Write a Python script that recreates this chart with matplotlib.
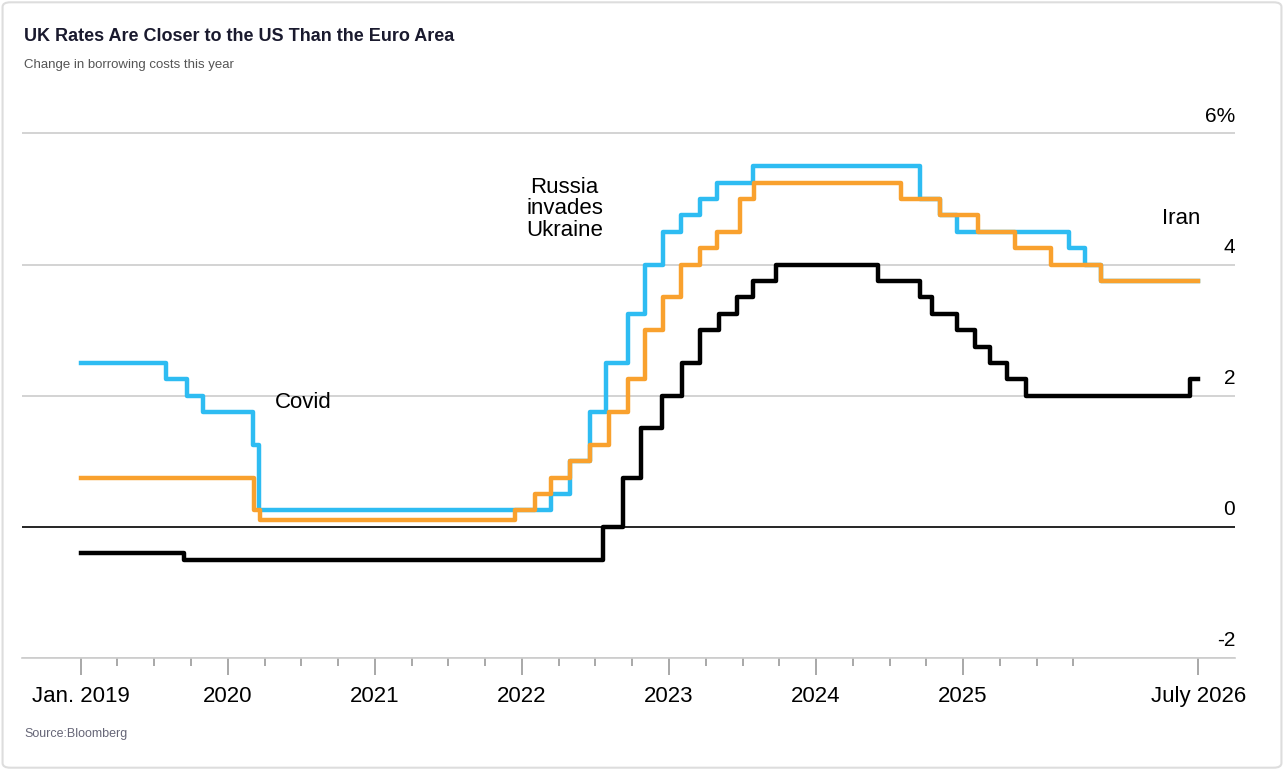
import matplotlib.pyplot as plt
import matplotlib.patches as patches

plt.rcParams['font.family'] = ['Liberation Sans', 'DejaVu Sans']

# step dates in decimal years, rate after that date
fed_dates = [2019.0, 2019.58, 2019.72, 2019.83, 2020.17, 2020.21, 2022.2, 2022.33, 2022.46, 2022.57, 2022.72, 2022.84,
             2022.96, 2023.08, 2023.21, 2023.33, 2023.57, 2024.71, 2024.84, 2024.96, 2025.72, 2025.83, 2025.94]
fed_vals = [2.5, 2.25, 2.0, 1.75, 1.25, 0.25, 0.5, 1.0, 1.75, 2.5, 3.25, 4.0,
            4.5, 4.75, 5.0, 5.25, 5.5, 5.0, 4.75, 4.5, 4.25, 4.0, 3.75]

boe_dates = [2019.0, 2020.18, 2020.22, 2021.95, 2022.09, 2022.2, 2022.33, 2022.46, 2022.59, 2022.72, 2022.84,
             2022.96, 2023.08, 2023.21, 2023.33, 2023.48, 2023.58, 2024.58, 2024.84, 2025.1, 2025.35, 2025.6, 2025.94]
boe_vals = [0.75, 0.25, 0.1, 0.25, 0.5, 0.75, 1.0, 1.25, 1.75, 2.25, 3.0,
            3.5, 4.0, 4.25, 4.5, 5.0, 5.25, 5.0, 4.75, 4.5, 4.25, 4.0, 3.75]

ecb_dates = [2019.0, 2019.7, 2022.55, 2022.69, 2022.81, 2022.95, 2023.09, 2023.21, 2023.34, 2023.46, 2023.57,
             2023.73, 2024.42, 2024.71, 2024.79, 2024.96, 2025.08, 2025.18, 2025.3, 2025.43, 2026.54]
ecb_vals = [-0.4, -0.5, 0.0, 0.75, 1.5, 2.0, 2.5, 3.0, 3.25, 3.5, 3.75,
            4.0, 3.75, 3.5, 3.25, 3.0, 2.75, 2.5, 2.25, 2.0, 2.25]

end_date = 2026.6
year_ticks = [2019, 2020, 2021, 2022, 2023, 2024, 2025, 2026.6]
year_labels = ["Jan. 2019", "2020", "2021", "2022", "2023", "2024", "2025", "July 2026"]
y_ticks = [-2, 0, 2, 4, 6]
y_labels = ["-2", "0", "2", "4", "6%"]

fig = plt.figure(figsize=(12.84, 7.70), dpi=100)
ax = fig.add_axes([0.017, 0.1455, 0.945, 0.6855])

# lineas de referencia
for t, lab in zip(y_ticks, y_labels):
    if t == 0:
        ax.axhline(t, color="black", linewidth=1.2, zorder=1)
    else:
        ax.axhline(t, color="#cccccc", linewidth=1.2, zorder=1)
    ax.text(2026.85, t + 0.12, lab, ha='right', va='bottom', fontsize=15)

for dates, vals, color in [(fed_dates, fed_vals, "#2ebcf2"), (boe_dates, boe_vals, "#f9a12e"), (ecb_dates, ecb_vals, "black")]:
    xs = dates + [end_date]
    ys = vals + [vals[-1]]
    ax.step(xs, ys, where='post', color=color, linewidth=3.2, zorder=3)

ax.text(2020.32, 1.9, "Covid", ha='left', va='center', fontsize=16)
ax.text(2022.29, 4.85, "Russia\ninvades\nUkraine", ha='center', va='center', fontsize=16, linespacing=1.05)
ax.text(2026.48, 4.7, "Iran", ha='center', va='center', fontsize=16)

ax.set_xlim(2018.6, 2026.85)
ax.set_ylim(-2, 6.05)
ax.set_yticks([])
ax.set_xticks(year_ticks)
ax.set_xticklabels(year_labels, fontsize=16)
ax.set_xticks([2019 + q * 0.25 for q in range(29) if q % 4 != 0], minor=True)
ax.tick_params(axis='x', which='major', length=12, width=1.2, color="#999999", pad=8)
ax.tick_params(axis='x', which='minor', length=6, width=1.2, color="#999999")
for s in ['top', 'right', 'left']:
    ax.spines[s].set_visible(False)
ax.spines['bottom'].set_color("#cccccc")
ax.spines['bottom'].set_linewidth(1.2)

fig.text(0.019, 0.952, "UK Rates Are Closer to the US Than the Euro Area", fontsize=13, fontweight='bold', color="#1a1a2e", va='center')
fig.text(0.019, 0.915, "Change in borrowing costs this year", fontsize=9.5, color="#555555", va='center')
fig.text(0.019, 0.047, "Source:Bloomberg", fontsize=9, color="#666677", va='center')

fig.patches.append(patches.FancyBboxPatch((0.002, 0.003), 0.996, 0.994, boxstyle="round,pad=0,rounding_size=0.006",
                                          transform=fig.transFigure, fill=False, edgecolor="#dddddd", linewidth=1.5))

fig.savefig("out.png", dpi=100)
